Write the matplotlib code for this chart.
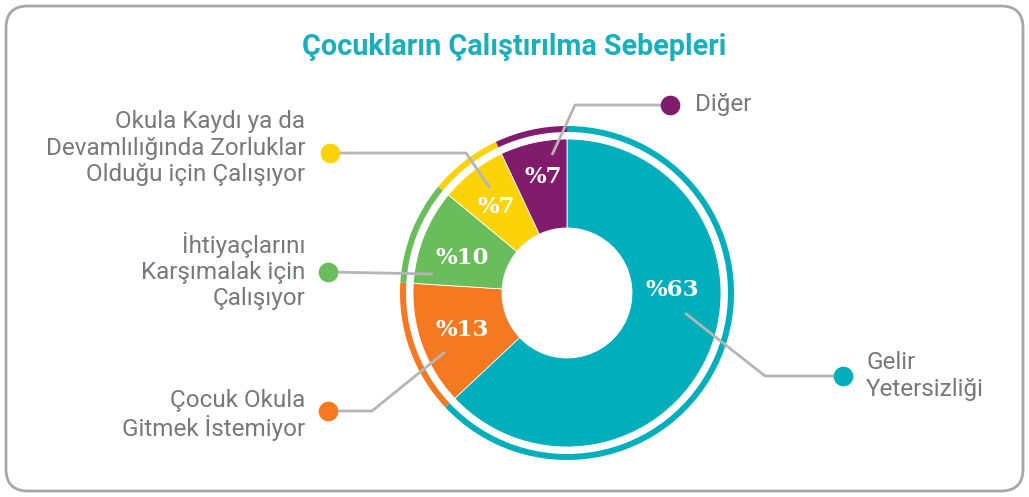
import matplotlib.pyplot as plt
from matplotlib.patches import FancyBboxPatch

W, H = 1029, 497

title = "Çocukların Çalıştırılma Sebepleri"
labels = ["Gelir\nYetersizliği", "Çocuk Okula\nGitmek İstemiyor",
          "İhtiyaçlarını\nKarşımalak için\nÇalışıyor",
          "Okula Kaydı ya da\nDevamlılığında Zorluklar\nOlduğu için Çalışıyor",
          "Diğer"]
values = [63, 13, 10, 7, 7]
pct_text = ["%63", "%13", "%10", "%7", "%7"]
colors = ["#00AFBB", "#F47920", "#6ABD5B", "#FBD307", "#801C6B"]

grey_txt = "#77787B"
grey_line = "#B5B5B7"

cx, cy = 567, 293
r_out, r_in = 154, 65


def Y(y):
    # pixel row (from top) -> data y
    return H - y


fig = plt.figure(figsize=(W / 100, H / 100), dpi=100)
ax = fig.add_axes([0, 0, 1, 1])

# donut + outer thin ring
ax.pie(values, colors=colors, startangle=90, counterclock=False,
       radius=r_out, center=(cx, Y(cy)),
       wedgeprops=dict(width=r_out - r_in, linewidth=0.6, edgecolor="white"))
ax.pie(values, colors=colors, startangle=90, counterclock=False,
       radius=167, center=(cx, Y(cy)),
       wedgeprops=dict(width=6, linewidth=0))

ax.set_xlim(0, W)
ax.set_ylim(0, H)
ax.set_aspect("equal")
ax.axis("off")

# rounded frame
frame = FancyBboxPatch((6, 6), W - 12, H - 12, boxstyle="round,pad=0,rounding_size=22",
                       fc="none", ec="#A7A7A7", lw=2)
ax.add_patch(frame)

ax.text(514, Y(47), title, ha="center", va="center", fontsize=20.7,
        fontweight="bold", family="Roboto", color="#1AAFBD")

# percentage labels
pct_pos = [(672, 290), (462, 330), (462, 258), (496, 207), (543, 177)]
for (px, py), t in zip(pct_pos, pct_text):
    ax.text(px, Y(py), t, ha="center", va="center", fontsize=16.5,
            fontweight="bold", family="DejaVu Serif", color="white")

# callout lines: list of points (pixel coords), dot, text anchor
callouts = [
    ([(685, 313), (765, 376), (843, 376)], (843, 376), (866, 376), "left"),
    ([(445, 352), (372, 411), (328, 411)], (328, 411), (305, 415), "right"),
    ([(433, 274), (328, 272)], (328, 272), (305, 271), "right"),
    ([(490, 188), (466, 153), (330, 153)], (330, 153), (305, 148), "right"),
    ([(552, 155), (575, 105), (670, 105)], (670, 105), (695, 105), "left"),
]
for i, (pts, dot, tpos, ha) in enumerate(callouts):
    xs = [p[0] for p in pts]
    ys = [Y(p[1]) for p in pts]
    ax.plot(xs, ys, color=grey_line, lw=2, solid_capstyle="butt", zorder=3)
    ax.scatter([dot[0]], [Y(dot[1])], s=200, color=colors[i], zorder=4, linewidths=0)
    ax.text(tpos[0], Y(tpos[1]), labels[i], ha=ha, va="center", fontsize=17.5,
            family="Roboto", color=grey_txt, linespacing=1.17,
            multialignment=ha)

fig.savefig("out.png", dpi=100)
